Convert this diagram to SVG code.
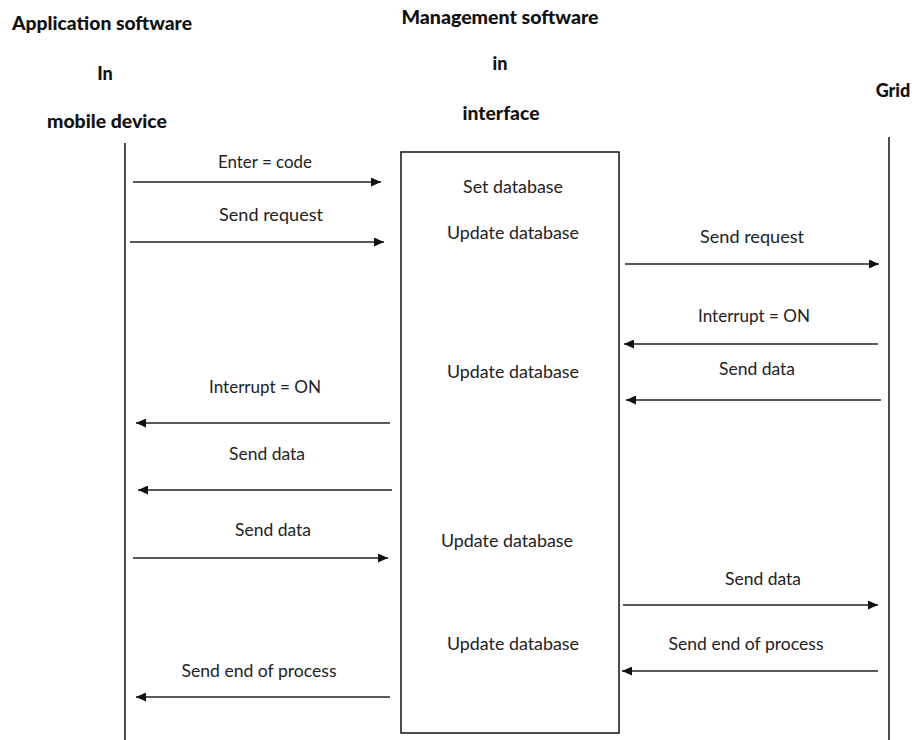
<svg xmlns="http://www.w3.org/2000/svg" width="914" height="740" viewBox="0 0 914 740">
  <style>
    .title { font-family: Lato, "Open Sans", "Liberation Sans", sans-serif; font-size: 18px; font-weight: 900; fill: #111; text-anchor: middle; }
    .lbl { font-family: Lato, "Open Sans", "Liberation Sans", sans-serif; font-size: 17.5px; fill: #222; text-anchor: middle; }
    .life { stroke: #111; stroke-width: 1.5; fill: none; }
    .msg { stroke: #222; stroke-width: 1.6; fill: none; marker-end: url(#head); }
  </style>
  <defs>
    <marker id="head" viewBox="0 0 10 10" refX="10" refY="5" markerWidth="10" markerHeight="9" markerUnits="userSpaceOnUse" orient="auto" preserveAspectRatio="none">
      <path d="M0,0 L10,5 L0,10 Z" fill="#111"/>
    </marker>
  </defs>
  <rect width="914" height="740" fill="#fff"/>

  <!-- Participant: application software on the mobile device -->
  <g id="app">
    <text class="title" x="102" y="30" textLength="180" lengthAdjust="spacingAndGlyphs">Application software</text>
    <text class="title" x="105" y="80">In</text>
    <text class="title" x="107" y="128" textLength="120" lengthAdjust="spacingAndGlyphs">mobile device</text>
    <line class="life" x1="125" y1="143" x2="125" y2="740"/>
  </g>

  <!-- Participant: management software in the interface -->
  <g id="mgmt">
    <text class="title" x="500" y="24" textLength="197" lengthAdjust="spacingAndGlyphs">Management software</text>
    <text class="title" x="500" y="70">in</text>
    <text class="title" x="501" y="120" textLength="77" lengthAdjust="spacingAndGlyphs">interface</text>
    <rect x="401" y="152" width="218" height="581" fill="none" stroke="#111" stroke-width="1.5"/>
    <text class="lbl" x="513" y="193" textLength="100" lengthAdjust="spacingAndGlyphs">Set database</text>
    <text class="lbl" x="513" y="239" textLength="132" lengthAdjust="spacingAndGlyphs">Update database</text>
    <text class="lbl" x="513" y="378" textLength="132" lengthAdjust="spacingAndGlyphs">Update database</text>
    <text class="lbl" x="507" y="547" textLength="132" lengthAdjust="spacingAndGlyphs">Update database</text>
    <text class="lbl" x="513" y="650" textLength="132" lengthAdjust="spacingAndGlyphs">Update database</text>
  </g>

  <!-- Participant: grid -->
  <g id="grid">
    <text class="title" x="893" y="97">Grid</text>
    <line class="life" x1="889" y1="137" x2="889" y2="740"/>
  </g>

  <!-- Messages -->
  <g id="connectors">
    <line class="msg" x1="133" y1="182" x2="381" y2="182"/>
    <line class="msg" x1="130" y1="242" x2="384" y2="242"/>
    <line class="msg" x1="625" y1="264" x2="879" y2="264"/>
    <line class="msg" x1="878" y1="344" x2="624" y2="344"/>
    <line class="msg" x1="881" y1="400" x2="626" y2="400"/>
    <line class="msg" x1="390" y1="423" x2="136" y2="423"/>
    <line class="msg" x1="392" y1="490" x2="138" y2="490"/>
    <line class="msg" x1="133" y1="558" x2="388" y2="558"/>
    <line class="msg" x1="623" y1="605" x2="878" y2="605"/>
    <line class="msg" x1="878" y1="671" x2="622" y2="671"/>
    <line class="msg" x1="390" y1="697" x2="136" y2="697"/>

    <text class="lbl" x="265" y="168" textLength="94" lengthAdjust="spacingAndGlyphs">Enter = code</text>
    <text class="lbl" x="271" y="221" textLength="104" lengthAdjust="spacingAndGlyphs">Send request</text>
    <text class="lbl" x="752" y="243" textLength="104" lengthAdjust="spacingAndGlyphs">Send request</text>
    <text class="lbl" x="754" y="322" textLength="112" lengthAdjust="spacingAndGlyphs">Interrupt = ON</text>
    <text class="lbl" x="757" y="375" textLength="76" lengthAdjust="spacingAndGlyphs">Send data</text>
    <text class="lbl" x="265" y="393" textLength="112" lengthAdjust="spacingAndGlyphs">Interrupt = ON</text>
    <text class="lbl" x="267" y="460" textLength="76" lengthAdjust="spacingAndGlyphs">Send data</text>
    <text class="lbl" x="273" y="536" textLength="76" lengthAdjust="spacingAndGlyphs">Send data</text>
    <text class="lbl" x="763" y="585" textLength="76" lengthAdjust="spacingAndGlyphs">Send data</text>
    <text class="lbl" x="746" y="650" textLength="155" lengthAdjust="spacingAndGlyphs">Send end of process</text>
    <text class="lbl" x="259" y="677" textLength="155" lengthAdjust="spacingAndGlyphs">Send end of process</text>
  </g>
</svg>
